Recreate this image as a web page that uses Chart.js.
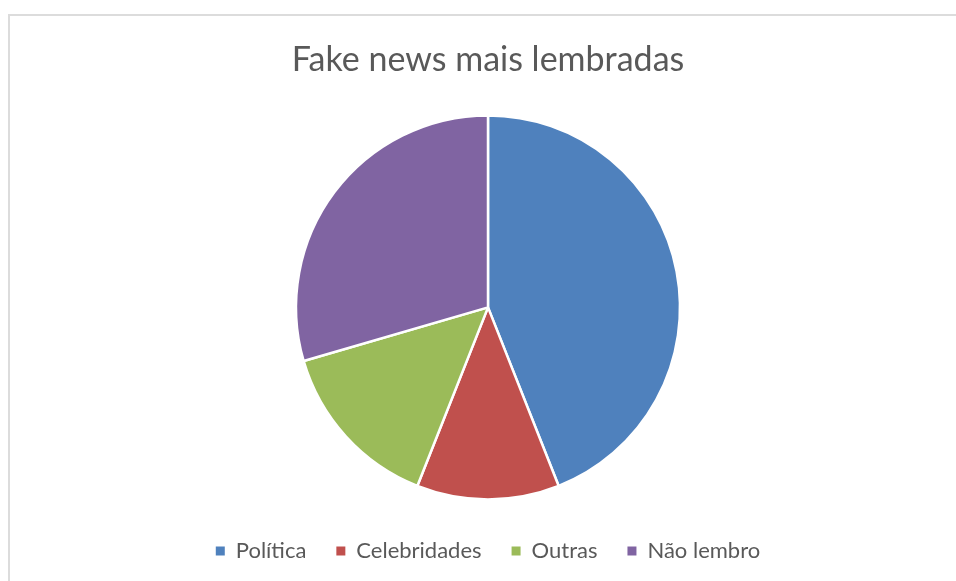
<!DOCTYPE html>
<html lang="pt-BR">
<head>
<meta charset="utf-8">
<title>Fake news mais lembradas</title>
<script src="https://cdn.jsdelivr.net/npm/chart.js@4"></script>
<style>
  html, body { margin: 0; padding: 0; background: #fff; overflow: hidden; }
  .frame {
    position: absolute; left: 8px; top: 14px; width: 1000px; height: 1000px;
    border-top: 2px solid #dcdcdc; border-left: 2px solid #dcdcdc;
  }
  #grafico { position: absolute; left: 0; top: 0; }
</style>
</head>
<body>
<div class="frame"></div>
<canvas id="grafico" width="956" height="581"></canvas>
<script>
// Categorias e percentuais do gráfico de pizza
const categorias = ['Política', 'Celebridades', 'Outras', 'Não lembro'];
const valores = [44, 12, 14.5, 29.5];
const cores = ['#4f81bd', '#c0504d', '#9bbb59', '#8064a2'];

const ctx = document.getElementById('grafico').getContext('2d');

new Chart(ctx, {
    type: 'pie',
    data: {
        labels: categorias,
        datasets: [{
            data: valores,
            backgroundColor: cores,
            borderColor: '#ffffff',
            borderWidth: 2.5,
            hoverOffset: 0,
            radius: 192
        }]
    },
    options: {
        responsive: false,
        animation: false,
        layout: {
            padding: { left: 20, right: 0, top: 0, bottom: 9 }
        },
        plugins: {
            title: {
                display: true,
                text: 'Fake news mais lembradas',
                color: '#595959',
                font: { family: 'Lato', size: 34, weight: '400' },
                padding: { top: 40, bottom: 24 }
            },
            legend: {
                position: 'bottom',
                labels: {
                    color: '#595959',
                    font: { family: 'Lato', size: 22 },
                    boxWidth: 9,
                    boxHeight: 9,
                    padding: 30,
                    // quadradinhos cheios, sem a borda branca das fatias
                    generateLabels: function(chart) {
                        const itens = Chart.controllers.pie.overrides.plugins.legend.labels.generateLabels(chart);
                        return itens.map(item => Object.assign(item, { lineWidth: 0, strokeStyle: item.fillStyle }));
                    }
                }
            },
            tooltip: { enabled: false }
        }
    }
});
</script>
</body>
</html>
